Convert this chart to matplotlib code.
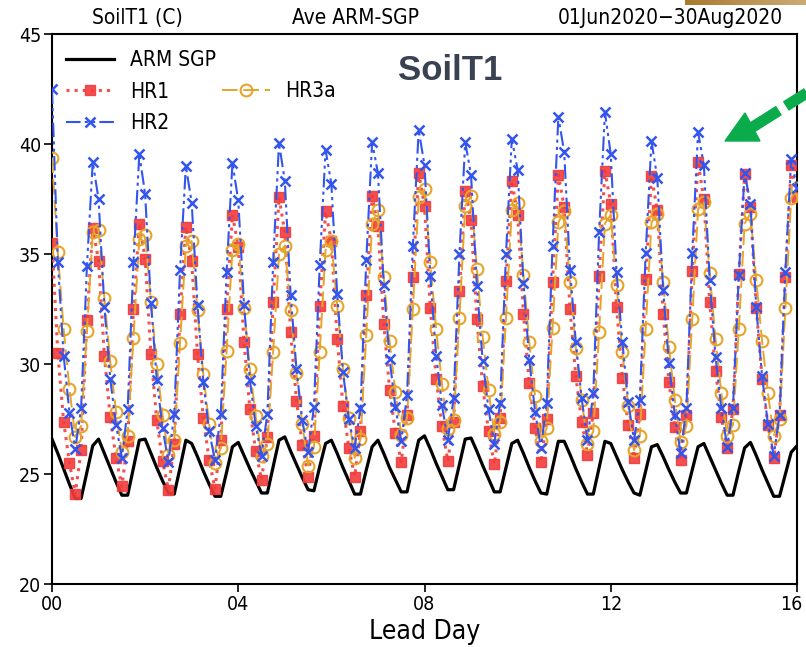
import numpy as np
import matplotlib.pyplot as plt
from matplotlib import font_manager
from matplotlib.lines import Line2D
from matplotlib.patches import Polygon
from matplotlib.transforms import ScaledTranslation

# prefer a narrow face for the GrADS-like labels
narrow_name, narrow_stretch = None, 'normal'
for f in font_manager.fontManager.ttflist:
    st = str(f.stretch)
    if 'Narrow' in f.name or 'Condensed' in f.name or st in ('condensed', 'semi-condensed', '500', '600', '700'):
        if f.style == 'normal' and f.weight in (400, 'normal', 'regular'):
            narrow_name, narrow_stretch = f.name, f.stretch
            break
if narrow_name is not None:
    plt.rcParams['font.family'] = [narrow_name, 'DejaVu Sans']
    plt.rcParams['font.stretch'] = narrow_stretch
    fs_tick, fs_text, fs_label = 14, 15, 19
else:
    plt.rcParams['font.family'] = ['DejaVu Sans']
    fs_tick, fs_text, fs_label = 13, 13, 16

# 3-hourly lead times, 0..16 days
lead_hours = np.arange(0, 16 * 24 + 1, 3)
lead_day = lead_hours / 24.

# soil temperature layer 1 (C), one row per lead day (00,03,...,21Z)
arm_sgp = [
    26.6, 25.95, 25.25, 24.55, 23.9, 23.9, 25.1, 26.3,
    26.6, 25.95, 25.3, 24.65, 24.05, 24.05, 25.3, 26.55,
    26.6, 25.95, 25.3, 24.7, 24.15, 24.1, 25.3, 26.55,
    26.4, 25.8, 25.15, 24.55, 24.0, 24.0, 25.1, 26.25,
    26.45, 25.85, 25.25, 24.7, 24.15, 24.15, 25.35, 26.55,
    26.7, 26.05, 25.45, 24.85, 24.3, 24.25, 25.35, 26.4,
    26.55, 25.95, 25.3, 24.7, 24.1, 24.1, 25.2, 26.25,
    26.55, 25.95, 25.3, 24.75, 24.2, 24.2, 25.4, 26.55,
    26.75, 26.15, 25.5, 24.9, 24.3, 24.3, 25.45, 26.6,
    26.65, 26.05, 25.4, 24.8, 24.2, 24.2, 25.3, 26.4,
    26.55, 25.95, 25.3, 24.7, 24.15, 24.1, 25.3, 26.5,
    26.5, 25.9, 25.25, 24.65, 24.1, 24.1, 25.3, 26.5,
    26.4, 25.8, 25.2, 24.65, 24.15, 24.05, 25.15, 26.25,
    26.35, 25.8, 25.2, 24.65, 24.15, 24.15, 25.2, 26.25,
    26.4, 25.8, 25.2, 24.6, 24.05, 24.05, 25.15, 26.2,
    26.45, 25.85, 25.2, 24.6, 24.0, 24.0, 25.0, 26.0,
    26.3]

hr1 = [
    35.5, 30.5, 27.4, 25.5, 24.1, 26.1, 32.0, 36.2,
    34.7, 30.4, 27.6, 25.75, 24.45, 26.5, 32.5, 36.4,
    34.8, 30.45, 27.45, 25.6, 24.3, 26.4, 32.3, 36.25,
    34.7, 30.45, 27.55, 25.65, 24.35, 26.55, 32.5, 36.8,
    35.35, 31.0, 27.95, 26.05, 24.75, 26.7, 32.85, 37.6,
    36.0, 31.45, 28.35, 26.35, 24.9, 26.75, 32.65, 36.95,
    35.6, 31.15, 28.1, 26.2, 24.9, 26.95, 33.15, 37.65,
    36.3, 31.85, 28.85, 26.9, 25.55, 27.7, 33.95, 38.7,
    37.2, 32.55, 29.35, 27.2, 25.6, 27.4, 33.35, 37.9,
    36.55, 32.05, 29.0, 26.95, 25.45, 27.55, 33.8, 38.35,
    36.8, 32.3, 29.15, 27.1, 25.55, 27.5, 33.75, 38.6,
    37.15, 32.5, 29.45, 27.4, 25.9, 27.8, 34.0, 38.8,
    37.3, 32.6, 29.4, 27.25, 25.75, 27.75, 33.9, 38.55,
    37.0, 32.3, 29.2, 27.15, 25.65, 27.7, 34.25, 39.2,
    37.5, 32.85, 29.7, 27.6, 26.2, 27.95, 34.1, 38.65,
    37.15, 32.55, 29.35, 27.25, 25.75, 27.7, 33.95, 39.05,
    37.6]

hr2 = [
    42.5, 34.65, 30.4, 27.8, 26.15, 28.0, 34.45, 39.2,
    37.5, 32.6, 29.35, 27.25, 25.75, 27.95, 34.65, 39.55,
    37.75, 32.8, 29.3, 27.1, 25.55, 27.75, 34.3, 39.0,
    37.35, 32.7, 29.2, 26.95, 25.65, 27.75, 34.2, 39.15,
    37.45, 32.7, 29.3, 27.2, 25.85, 27.75, 34.65, 40.05,
    38.35, 33.15, 29.8, 27.45, 26.0, 28.05, 34.5, 39.75,
    38.2, 33.2, 29.65, 27.5, 26.2, 28.0, 34.75, 40.1,
    38.7, 33.6, 30.25, 28.05, 26.5, 28.6, 35.4, 40.65,
    39.05, 34.0, 30.4, 28.15, 26.55, 28.45, 35.0, 40.1,
    38.6, 33.55, 30.15, 27.95, 26.4, 28.25, 35.0, 40.25,
    38.85, 33.7, 30.2, 27.85, 26.2, 28.25, 35.4, 41.25,
    39.65, 34.3, 31.0, 28.45, 26.55, 28.7, 36.0, 41.45,
    39.55, 34.2, 31.0, 28.3, 26.55, 28.4, 35.05, 40.15,
    38.45, 33.4, 30.05, 27.7, 25.95, 28.0, 35.05, 40.55,
    39.05, 33.85, 30.35, 28.0, 26.25, 28.0, 34.05, 38.7,
    37.3, 32.6, 29.45, 27.3, 25.85, 27.7, 34.2, 39.35,
    38.0]

hr3a = [
    39.4, 35.1, 31.6, 28.9, 26.7, 27.2, 31.5, 36.0,
    36.1, 33.0, 30.15, 27.85, 26.0, 26.75, 31.2, 35.7,
    35.9, 32.85, 30.0, 27.7, 25.9, 26.55, 30.95, 35.4,
    35.6, 32.45, 29.55, 27.3, 25.5, 26.2, 30.6, 35.2,
    35.45, 32.55, 29.8, 27.65, 25.85, 26.4, 30.55, 35.0,
    35.4, 32.45, 29.6, 27.3, 25.4, 26.25, 30.55, 35.2,
    35.6, 32.65, 29.8, 27.55, 25.75, 26.6, 31.35, 36.4,
    37.0, 33.95, 31.05, 28.75, 26.8, 27.55, 32.5, 37.6,
    37.95, 34.65, 31.6, 29.1, 27.05, 27.45, 32.1, 37.2,
    37.65, 34.35, 31.25, 28.85, 26.85, 27.4, 32.1, 37.0,
    37.35, 34.05, 31.0, 28.55, 26.5, 27.1, 31.65, 36.45,
    36.95, 33.75, 30.75, 28.4, 26.4, 26.95, 31.45, 36.4,
    36.8, 33.6, 30.55, 28.1, 26.1, 26.75, 31.6, 36.45,
    36.85, 33.75, 30.8, 28.4, 26.45, 27.2, 32.05, 37.05,
    37.4, 34.15, 31.15, 28.7, 26.75, 27.25, 31.6, 36.4,
    36.85, 33.85, 31.05, 28.7, 26.75, 27.5, 32.55, 37.55,
    38.0]

x_ticks = [0, 4, 8, 12, 16]
x_tick_labels = ['00', '04', '08', '12', '16']
y_ticks = [20, 25, 30, 35, 40, 45]

W, H = 806, 647
fig = plt.figure(figsize=(W / 100, H / 100), dpi=100)
ax = fig.add_axes([52 / W, 1 - 584.3 / H, 745 / W, 550 / H])

c_hr1 = '#f23c3c'
c_hr2 = '#3355ee'
c_hr3 = '#e6a52a'

l_arm, = ax.plot(lead_day, arm_sgp, color='black', lw=2.3, zorder=2)
l_hr1, = ax.plot(lead_day, hr1, color=c_hr1, ls=':', lw=2.2, marker='s', ms=7.5,
                 mec=c_hr1, mfc=c_hr1, alpha=0.9, zorder=3)
l_hr3, = ax.plot(lead_day, hr3a, color=c_hr3, ls=(0, (8, 3)), lw=1.4, marker='o', ms=8.5,
                 mfc='none', mec=c_hr3, mew=1.5, zorder=4)
l_hr2, = ax.plot(lead_day, hr2, color=c_hr2, ls=(0, (7, 2, 1.5, 2, 1.5, 2)), lw=1.5,
                 marker='x', ms=7, mew=1.8, zorder=5)

ax.set_xlim(0, 16)
ax.set_ylim(20, 45)
ax.set_xticks(x_ticks)
ax.set_xticklabels(x_tick_labels)
ax.set_yticks(y_ticks)
ax.tick_params(axis='both', which='major', direction='out', length=6, width=1.2,
               labelsize=fs_tick, pad=2)
for sp in ax.spines.values():
    sp.set_linewidth(1.5)
ax.set_xlabel('Lead Day', fontsize=fs_label, labelpad=3)

# keep the last day label inside the canvas
last_lab = ax.xaxis.get_major_ticks()[-1].label1
last_lab.set_transform(last_lab.get_transform() + ScaledTranslation(-6 / 100, 0, fig.dpi_scale_trans))

# legend: ARM/HR1/HR2 stacked, HR3a beside HR1
leg1 = ax.legend([l_arm, l_hr1, l_hr2], ['ARM SGP', 'HR1', 'HR2'], loc='upper left',
                 bbox_to_anchor=(0.019, 0.971), frameon=False, fontsize=fs_text,
                 handlelength=2.3, handletextpad=0.75, labelspacing=0.55,
                 borderpad=0, borderaxespad=0)
ax.add_artist(leg1)
ax.legend([l_hr3], ['HR3a'], loc='upper left', bbox_to_anchor=(0.228, 0.9145),
          frameon=False, fontsize=fs_text, handlelength=2.3, handletextpad=0.75,
          borderpad=0, borderaxespad=0)

# header line
fig.text(137 / W, 1 - 18 / H, 'SoilT1 (C)', ha='center', va='center', fontsize=fs_text)
fig.text(355 / W, 1 - 18 / H, 'Ave ARM-SGP', ha='center', va='center', fontsize=fs_text)
fig.text(783 / W, 1 - 18 / H, '01Jun2020\u221230Aug2020', ha='right', va='center', fontsize=fs_text)

fig.text(450 / W, 1 - 70 / H, 'SoilT1', ha='center', va='center', fontsize=25,
         fontweight='bold', color='#3a4252', family=['Liberation Sans', 'DejaVu Sans'],
         stretch='normal')

# green pointer arrow in the upper right
green = '#0aab4b'
fig.add_artist(Line2D([748 / W, 840 / W], [1 - 130 / H, 1 - 72 / H], color=green, lw=8,
                      dashes=(3.3, 0.72, 6, 0.72), transform=fig.transFigure,
                      solid_capstyle='butt', dash_capstyle='butt'))
fig.add_artist(Polygon([[725 / W, 1 - 141 / H], [745 / W, 1 - 113 / H], [760 / W, 1 - 141 / H]],
                       closed=True, color=green, transform=fig.transFigure))

# gold strip along the top right edge
strip = fig.add_axes([685 / W, 1 - 5 / H, 121 / W, 5 / H])
strip.imshow([np.linspace(0, 1, 50)], aspect='auto', extent=(0, 1, 0, 1),
             cmap=plt.matplotlib.colors.LinearSegmentedColormap.from_list('gold', ['#a97a30', '#cbab74']))
strip.set_axis_off()

fig.savefig('out.png', dpi=100)
